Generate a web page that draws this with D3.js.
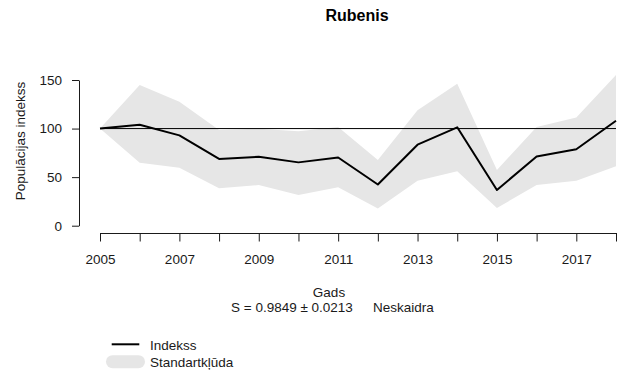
<!DOCTYPE html>
<html>
<head>
<meta charset="utf-8">
<script src="https://cdn.jsdelivr.net/npm/d3@7"></script>
<style>
  html, body { margin: 0; padding: 0; background: #fff; }
  svg { display: block; font-family: "Liberation Sans", Arial, sans-serif; }
</style>
</head>
<body>
<svg id="chart" width="629" height="378"></svg>
<script>
// Population index per year, with standard-error band
const years = [2005, 2006, 2007, 2008, 2009, 2010, 2011, 2012, 2013, 2014, 2015, 2016, 2017, 2018];
const indexValues = [100, 104, 93, 68.7, 71, 65.2, 70.2, 42.4, 83.4, 101.3, 36.8, 71.2, 78.7, 108.1];
const upperValues = [100, 144.9, 127.7, 98.6, 99.8, 97.2, 101.6, 67.7, 118.8, 146.2, 57.4, 101.5, 111.4, 155.2];
const lowerValues = [100, 64.9, 59.6, 38.5, 41.9, 31.6, 39.5, 17.6, 46.2, 56, 18.2, 41.8, 46.3, 61.2];
const yTicks = [0, 50, 100, 150];
const xTickLabels = ["2005", "2007", "2009", "2011", "2013", "2015", "2017"];
const baseline = 100;

const title = "Rubenis";
const xTitle = "Gads";
const yTitle = "Populācijas indekss";
const trendText = "S = 0.9849 ± 0.0213";
const trendClass = "Neskaidra";
const legendLabels = ["Indekss", "Standartkļūda"];

const svg = d3.select("#chart");
const ink = "#1a1a1a";
const bandFill = "#e6e6e6";
const fs = 13.5;

const x = d3.scaleLinear().domain([2005, 2018]).range([100, 616]);
const y = d3.scaleLinear().domain([0, 150]).range([225.7, 80]);

const rows = years.map((yr, i) => ({ yr, v: indexValues[i], hi: upperValues[i], lo: lowerValues[i] }));

// standard-error band
svg.append("path")
  .datum(rows)
  .attr("fill", bandFill)
  .attr("d", d3.area().x(d => x(d.yr)).y0(d => y(d.lo)).y1(d => y(d.hi)));

// reference line at 100
svg.append("line")
  .attr("x1", x(years[0])).attr("x2", x(years[years.length - 1]))
  .attr("y1", y(baseline)).attr("y2", y(baseline))
  .attr("stroke", "#000").attr("stroke-width", 1);

// index line
svg.append("path")
  .datum(rows)
  .attr("fill", "none")
  .attr("stroke", "#000")
  .attr("stroke-width", 2)
  .attr("stroke-linejoin", "round")
  .attr("d", d3.line().x(d => x(d.yr)).y(d => y(d.v)));

// y axis
const yAxis = svg.append("g")
  .attr("transform", "translate(79,0)")
  .call(d3.axisLeft(y).tickValues(yTicks).tickSize(7).tickSizeOuter(0).tickPadding(10).tickFormat(d3.format("d")));
yAxis.selectAll("path, line").attr("stroke", ink);
yAxis.selectAll("text").attr("font-size", fs).attr("fill", ink).attr("font-family", null);

// x axis: a tick every year, labels on odd years
const xAxis = svg.append("g")
  .attr("transform", "translate(0,233)")
  .call(d3.axisBottom(x).tickValues(years).tickSize(8.5).tickSizeOuter(0).tickPadding(13)
    .tickFormat(d => xTickLabels.includes(String(d)) ? String(d) : ""));
xAxis.selectAll("path, line").attr("stroke", ink);
xAxis.selectAll("text").attr("font-size", fs).attr("fill", ink).attr("font-family", null);

// titles
svg.append("text")
  .attr("x", 357).attr("y", 21)
  .attr("text-anchor", "middle")
  .attr("font-size", 16).attr("font-weight", "bold").attr("fill", "#000")
  .text(title);

svg.append("text")
  .attr("transform", "translate(25,141) rotate(-90)")
  .attr("text-anchor", "middle")
  .attr("font-size", fs).attr("fill", ink)
  .text(yTitle);

svg.append("text")
  .attr("x", 329).attr("y", 296.5)
  .attr("text-anchor", "middle")
  .attr("font-size", fs).attr("fill", ink)
  .text(xTitle);

svg.append("text")
  .attr("x", 231).attr("y", 311.5)
  .attr("font-size", fs).attr("fill", ink)
  .text(trendText);

svg.append("text")
  .attr("x", 373).attr("y", 311.5)
  .attr("font-size", fs).attr("fill", ink)
  .text(trendClass);

// legend
const legend = svg.append("g");
legend.append("line")
  .attr("x1", 111.7).attr("x2", 139.3).attr("y1", 344.3).attr("y2", 344.3)
  .attr("stroke", "#000").attr("stroke-width", 2);
legend.append("line")
  .attr("x1", 112.5).attr("x2", 138.5).attr("y1", 361.7).attr("y2", 361.7)
  .attr("stroke", bandFill).attr("stroke-width", 13).attr("stroke-linecap", "round");
legend.selectAll("text.lab")
  .data(legendLabels)
  .join("text")
  .attr("class", "lab")
  .attr("x", 150)
  .attr("y", (d, i) => 349.5 + i * 17.5)
  .attr("font-size", fs).attr("fill", ink)
  .text(d => d);
</script>
</body>
</html>
